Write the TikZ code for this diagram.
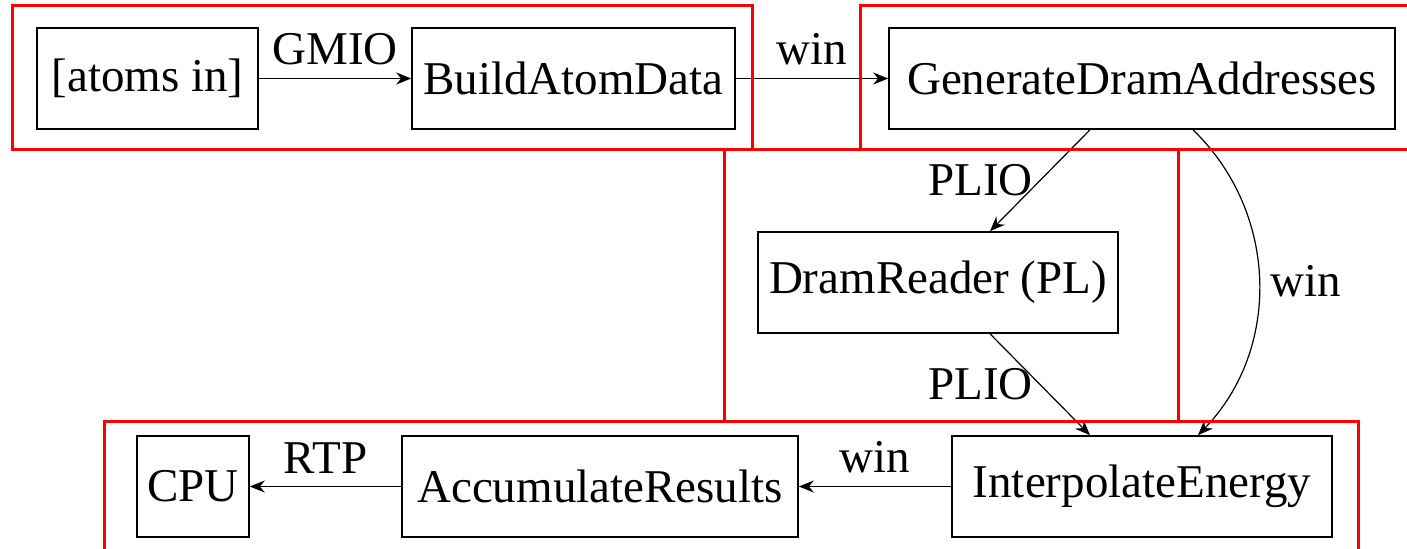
\documentclass[tikz,border=0pt]{standalone}
\usepackage{fontspec}
\setmainfont{Liberation Serif}
\usetikzlibrary{arrows.meta}

\begin{document}
\begin{tikzpicture}[x=0.5pt, y=-0.5pt,
    blk/.style={rectangle, draw, line width=0.8pt, minimum height=50.5pt, inner xsep=0pt},
    grp/.style={red, line width=1.5pt},
    lnk/.style={-{Stealth[length=7.5pt, width=6pt]}, line width=0.6pt},
    font=\fontsize{23.5}{28}\selectfont]

    \clip (0, 0) rectangle (1407, 548);

    % Blocks
    \node at (147.5, 78.5) [blk, minimum width=110.5pt] (atoms) {[atoms in]};
    \node at (573.5, 78.5) [blk, minimum width=161.5pt] (build) {BuildAtomData};
    \node at (1142, 78.5) [blk, minimum width=253pt] (gen) {GenerateDramAddresses};
    \node at (938, 282.5) [blk, minimum width=180pt] (reader) {DramReader (PL)};
    \node at (193, 486.5) [blk, minimum width=56pt] (cpu) {CPU};
    \node at (600, 486.5) [blk, minimum width=198pt] (acc) {AccumulateResults};
    \node at (1142, 486.5) [blk, minimum width=190pt] (interp) {InterpolateEnergy};

    % Links
    \draw[lnk] (atoms) -- (build) node[midway, above=3pt] {GMIO};
    \draw[lnk] (build) -- (gen) node[midway, above=3pt] {win};
    \draw[lnk] ([xshift=-26pt] gen.south) -- ([xshift=26pt] reader.north) node[midway, left] {PLIO};
    \draw[lnk] ([xshift=26pt] reader.south) -- ([xshift=-26pt] interp.north) node[midway, left] {PLIO};
    \draw[lnk] ([xshift=25.5pt] gen.south) to[bend left=45] node[midway, right=2pt] {win} ([xshift=28pt] interp.north);
    \draw[lnk] (interp) -- (acc) node[midway, above=3pt] {win};
    \draw[lnk] (acc) -- (cpu) node[midway, above=3pt] {RTP};

    % Groups
    \draw[grp] (12, 5) rectangle (752, 149);
    \draw[grp] (860, 5) rectangle (1420, 149);
    \draw[grp] (724, 149) rectangle (1178, 421);
    \draw[grp] (104, 421) rectangle (1358, 560);

\end{tikzpicture}
\end{document}
